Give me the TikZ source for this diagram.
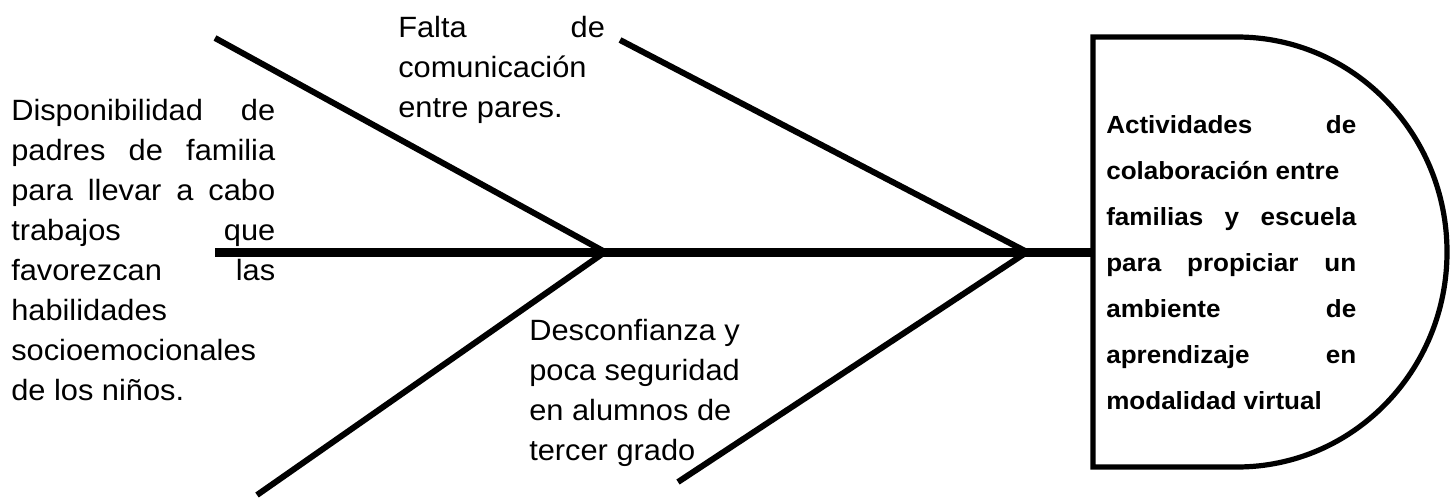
\documentclass[tikz,border=0pt]{standalone}
\usepackage{fontspec}
\setmainfont[FakeStretch=1.05]{Liberation Sans}
\newcommand{\jl}[2]{\hbox to #1{#2}}
\begin{document}
\begin{tikzpicture}[x=0.75pt,y=-0.75pt,
  spine/.style={line width=6.75pt,line cap=butt},
  bone/.style={line width=4.5pt,line cap=butt,line join=miter},
  outline/.style={line width=3.9pt,line join=miter},
  cause/.style={inner sep=0pt,anchor=base west,font=\fontsize{22pt}{30pt}\selectfont},
  effecttext/.style={inner sep=0pt,anchor=base west,font=\fontsize{18.6pt}{34.5pt}\selectfont\bfseries}]
\useasboundingbox (0,0) rectangle (1455,500);
% coordinates
\coordinate (tail) at (215,252);
\coordinate (j1) at (605,252);
\coordinate (j2) at (1027,252);
\coordinate (head) at (1093,252);
\coordinate (b1s) at (215,38);
\coordinate (b2e) at (257,495);
\coordinate (b3s) at (620,40);
\coordinate (b4e) at (678,482);
\coordinate (boxtl) at (1093,37);
\coordinate (boxbl) at (1093,467);
\coordinate (arctop) at (1237,37);
\coordinate (arcbot) at (1237,467);
% effect head
\draw[outline] (arctop) -- (boxtl) -- (boxbl) -- (arcbot)
  arc[start angle=-90,end angle=90,x radius=157.5pt,y radius=161.25pt] -- cycle;
% spine and bones
\draw[spine] (tail) -- (head);
\draw[bone] (b1s) -- (j1) -- (b2e);
\draw[bone] (b3s) -- (j2) -- (b4e);
% texts
\node[cause] (c1) at (11,120) {\vtop{\baselineskip=30pt
  \jl{198pt}{Disponibilidad\hfill de}
  \jl{198pt}{padres\hfill de\hfill familia}
  \jl{198pt}{para\hfill llevar\hfill a\hfill cabo}
  \jl{198pt}{trabajos\hfill que}
  \jl{198pt}{favorezcan\hfill las}
  \hbox{habilidades}
  \hbox{socioemocionales}
  \hbox{de los niños.}}};
\node[cause] (c2) at (398,37) {\vtop{\baselineskip=30pt
  \jl{155pt}{Falta\hfill de}
  \hbox{comunicación}
  \hbox{entre pares.}}};
\node[cause] (c3) at (529,340) {\vtop{\baselineskip=30pt
  \hbox{Desconfianza y}
  \hbox{poca seguridad}
  \hbox{en alumnos de}
  \hbox{tercer grado}}};
\node[effecttext] (effect) at (1106,133) {\vtop{\baselineskip=34.5pt
  \jl{187.5pt}{Actividades\hfill de}
  \hbox{colaboración entre}
  \jl{187.5pt}{familias\hfill y\hfill escuela}
  \jl{187.5pt}{para\hfill propiciar\hfill un}
  \jl{187.5pt}{ambiente\hfill de}
  \jl{187.5pt}{aprendizaje\hfill en}
  \hbox{modalidad virtual}}};
\end{tikzpicture}
\end{document}
